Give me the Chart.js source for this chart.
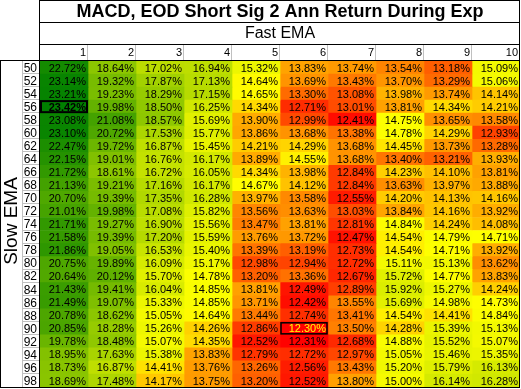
<!DOCTYPE html>
<html lang="en">
<head>
    <meta charset="UTF-8">
    <title>MACD, EOD Short Sig 2 Ann Return During Exp</title>
    <script src="https://cdn.jsdelivr.net/npm/chart.js"></script>
    <style>
        body { margin: 0; padding: 0; background: #fff; }
        canvas { display: block; }
    </style>
</head>
<body>
    <canvas id="heat" width="521" height="389"></canvas>

    <script>
        // Table data: rows = slow EMA, columns = fast EMA, values = annual return %
        const title = 'MACD, EOD Short Sig 2 Ann Return During Exp';
        const fastEma = ['1', '2', '3', '4', '5', '6', '7', '8', '9', '10'];
        const slowEma = ['50', '52', '54', '56', '58', '60', '62', '64', '66', '68', '70', '72', '74',
                         '76', '78', '80', '82', '84', '86', '88', '90', '92', '94', '96', '98'];

        const fast1 = [22.72, 23.14, 23.21, 23.42, 23.08, 23.10, 22.47, 22.15, 21.72, 21.13, 20.70, 21.01, 21.71,
                       21.58, 21.86, 20.75, 20.64, 21.43, 21.49, 20.78, 20.85, 19.78, 18.95, 18.73, 18.69];
        const fast2 = [18.64, 19.32, 19.23, 19.98, 21.08, 20.72, 19.72, 19.01, 18.61, 19.21, 19.39, 19.98, 19.27,
                       19.39, 19.05, 19.89, 20.12, 19.41, 19.07, 18.62, 18.28, 18.48, 17.63, 16.87, 17.48];
        const fast3 = [17.02, 17.87, 18.29, 18.50, 18.57, 17.53, 16.87, 16.76, 16.72, 17.16, 17.35, 17.08, 16.90,
                       17.20, 16.53, 16.09, 15.70, 16.04, 15.33, 15.05, 15.26, 15.07, 15.38, 14.41, 14.17];
        const fast4 = [16.94, 17.13, 17.15, 16.25, 15.69, 15.77, 15.45, 16.17, 16.05, 16.17, 16.28, 15.82, 15.56,
                       15.59, 15.40, 15.17, 14.78, 14.85, 14.85, 14.64, 14.26, 14.35, 13.83, 13.76, 13.75];
        const fast5 = [15.32, 14.64, 14.65, 14.34, 13.90, 13.86, 14.21, 13.89, 14.34, 14.67, 13.97, 13.56, 13.47,
                       13.76, 13.39, 12.98, 13.20, 13.81, 13.71, 13.44, 12.86, 12.52, 12.79, 13.26, 13.20];
        const fast6 = [13.83, 13.69, 13.30, 12.71, 12.99, 13.68, 14.29, 14.55, 13.98, 14.12, 13.58, 13.63, 13.81,
                       13.72, 13.19, 12.94, 13.36, 12.49, 12.42, 12.74, 12.30, 12.31, 12.72, 12.56, 12.52];
        const fast7 = [13.74, 13.43, 13.08, 13.01, 12.41, 13.38, 13.68, 13.68, 12.84, 12.84, 12.55, 13.03, 12.81,
                       12.47, 12.73, 12.72, 12.67, 12.89, 13.55, 13.41, 13.50, 12.68, 12.97, 13.43, 13.80];
        const fast8 = [13.54, 13.70, 13.98, 13.81, 14.75, 14.78, 14.45, 13.40, 14.23, 13.63, 14.20, 13.84, 14.84,
                       14.54, 14.54, 15.11, 15.72, 15.92, 15.69, 14.54, 14.28, 14.88, 15.05, 15.20, 15.00];
        const fast9 = [13.18, 13.29, 13.74, 14.34, 13.65, 14.29, 13.73, 13.21, 14.10, 13.97, 14.13, 14.16, 14.24,
                       14.79, 14.71, 15.13, 14.77, 15.27, 14.98, 14.41, 15.39, 15.52, 15.46, 15.79, 16.14];
        const fast10 = [15.09, 15.06, 14.14, 14.21, 13.58, 12.93, 13.28, 13.93, 13.81, 13.88, 14.16, 13.92, 14.08,
                        14.71, 13.92, 13.62, 13.83, 14.24, 14.73, 14.84, 15.13, 15.07, 15.35, 16.13, 16.28];

        const columns = [fast1, fast2, fast3, fast4, fast5, fast6, fast7, fast8, fast9, fast10];

        // 3-colour scale: min red, median yellow, max green
        const all = columns.flat().slice().sort((a, b) => a - b);
        const vMin = all[0];
        const vMax = all[all.length - 1];
        const mid = all.length / 2;
        const vMid = (all[mid - 1] + all[mid]) / 2;

        function mix(c1, c2, t) {
            return c1.map((v, i) => Math.round(v + (c2[i] - v) * t));
        }
        function colorFor(v) {
            const red = [255, 0, 0], yellow = [255, 255, 0], green = [0, 128, 0];
            let c;
            if (v <= vMid) c = mix(red, yellow, (v - vMin) / (vMid - vMin));
            else c = mix(yellow, green, (v - vMid) / (vMax - vMid));
            return `rgb(${c[0]}, ${c[1]}, ${c[2]})`;
        }

        // Find the best and worst cell (they get a frame)
        function findCell(target) {
            for (let j = 0; j < columns.length; j++) {
                const i = columns[j].indexOf(target);
                if (i >= 0) return { i, j };
            }
        }
        const best = findCell(vMax);
        const worst = findCell(vMin);

        const cellPlugin = {
            id: 'cellText',
            afterDatasetsDraw(chart) {
                const ctx = chart.ctx;
                ctx.save();
                ctx.textAlign = 'right';
                ctx.textBaseline = 'middle';
                chart.data.datasets.forEach((ds, j) => {
                    const meta = chart.getDatasetMeta(j);
                    meta.data.forEach((bar, i) => {
                        const left = bar.base, right = bar.x;
                        const top = bar.y - bar.height / 2;
                        const isBest = best.i === i && best.j === j;
                        const isWorst = worst.i === i && worst.j === j;
                        ctx.font = (isBest ? 'bold ' : '') + '11px "Liberation Sans", Arial, sans-serif';
                        ctx.fillStyle = isWorst ? '#ffff00' : '#000';
                        ctx.fillText(ds.values[i].toFixed(2) + '%', right - 2, bar.y + 1);
                        if (isBest || isWorst) {
                            ctx.strokeStyle = '#000';
                            ctx.lineWidth = isBest ? 2 : 1.5;
                            ctx.strokeRect(left + 1, top + 1, right - left - 2, bar.height - 2);
                        }
                    });
                });
                ctx.restore();
            },
            afterDraw(chart) {
                const ctx = chart.ctx;
                const area = chart.chartArea;
                const xs = chart.scales.x;
                const ys = chart.scales.y;
                const rowH = ys.getPixelForValue(1) - ys.getPixelForValue(0);
                ctx.save();

                // header: title and "Fast EMA"
                ctx.fillStyle = '#000';
                ctx.textAlign = 'center';
                ctx.textBaseline = 'middle';
                ctx.font = 'bold 18px "Liberation Sans", Arial, sans-serif';
                ctx.fillText(title, (area.left + area.right) / 2, 12);
                ctx.font = '16px "Liberation Sans", Arial, sans-serif';
                ctx.fillText('Fast EMA', (area.left + area.right) / 2, 34);

                // column numbers, right aligned in their cells
                ctx.textAlign = 'right';
                ctx.font = '11px "Liberation Sans", Arial, sans-serif';
                fastEma.forEach((lab, j) => {
                    ctx.fillText(lab, xs.getPixelForValue(j + 1) - 2, 53);
                });
                ctx.strokeStyle = '#c0c0c0';
                ctx.lineWidth = 1;
                ctx.beginPath();
                for (let j = 1; j < fastEma.length; j++) {
                    const x = Math.round(xs.getPixelForValue(j)) - 0.5;
                    ctx.moveTo(x, 45);
                    ctx.lineTo(x, area.top);
                }
                ctx.stroke();

                // row labels
                ctx.font = '12px "Liberation Sans", Arial, sans-serif';
                slowEma.forEach((lab, i) => {
                    ctx.fillText(lab, area.left - 3, ys.getPixelForValue(i) + 1);
                });
                ctx.strokeStyle = '#c0c0c0';
                ctx.beginPath();
                for (let i = 1; i < slowEma.length; i++) {
                    const y = Math.round(ys.getPixelForValue(i) - rowH / 2) - 0.5;
                    ctx.moveTo(22, y);
                    ctx.lineTo(area.left, y);
                }
                ctx.moveTo(22.5, area.top);
                ctx.lineTo(22.5, area.bottom);
                ctx.stroke();

                // "Slow EMA" rotated
                ctx.fillStyle = '#000';
                ctx.font = '19px "Liberation Sans", Arial, sans-serif';
                ctx.textAlign = 'center';
                ctx.translate(12, 221);
                ctx.rotate(-Math.PI / 2);
                ctx.fillText('Slow EMA', 0, 0);
                ctx.setTransform(1, 0, 0, 1, 0, 0);

                // black frame lines
                ctx.strokeStyle = '#000';
                ctx.lineWidth = 1;
                ctx.beginPath();
                ctx.moveTo(area.left - 0.5, 0);
                ctx.lineTo(area.left - 0.5, area.bottom);
                ctx.moveTo(area.left, 0.5);
                ctx.lineTo(area.right, 0.5);
                ctx.moveTo(area.right - 0.5, 0);
                ctx.lineTo(area.right - 0.5, area.bottom);
                ctx.moveTo(area.left, 22.5);
                ctx.lineTo(area.right, 22.5);
                ctx.moveTo(area.left, 44.5);
                ctx.lineTo(area.right, 44.5);
                ctx.moveTo(0, area.top - 0.5);
                ctx.lineTo(area.right, area.top - 0.5);
                ctx.moveTo(0.5, area.top);
                ctx.lineTo(0.5, area.bottom);
                ctx.moveTo(0, area.bottom + 0.5);
                ctx.lineTo(area.right, area.bottom + 0.5);
                ctx.stroke();
                ctx.restore();
            }
        };

        const datasets = columns.map((vals, j) => ({
            label: fastEma[j],
            data: vals.map(() => [j, j + 1]),
            values: vals,
            backgroundColor: vals.map(colorFor),
            borderWidth: 0,
            grouped: false,
            barPercentage: 1,
            categoryPercentage: 1
        }));

        new Chart(document.getElementById('heat'), {
            type: 'bar',
            data: { labels: slowEma, datasets },
            options: {
                indexAxis: 'y',
                responsive: false,
                animation: false,
                layout: { padding: { left: 40, top: 61, right: 1, bottom: 2 } },
                scales: {
                    x: { type: 'linear', min: 0, max: 10, display: false },
                    y: { type: 'category', display: false }
                },
                plugins: {
                    legend: { display: false },
                    tooltip: { enabled: false }
                }
            },
            plugins: [cellPlugin]
        });
    </script>
</body>
</html>
